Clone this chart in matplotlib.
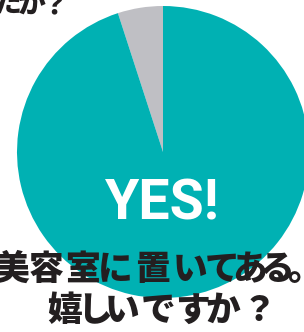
import matplotlib
matplotlib.use("Agg")
import matplotlib.pyplot as plt

# Data
labels = ["NO", "YES"]
values = [5, 95]
colors = ["#BFBFC4", "#00B1B3"]
center_label = "YES!"
title_top = "たか？"
title_lines = ["美容室に置いてある。", "嬉しいですか？"]

W, H = 304, 332
fig = plt.figure(figsize=(W / 100, H / 100), dpi=100)
ax = fig.add_axes([0, 0, 1, 1])

ax.pie(values, colors=colors, startangle=90, counterclock=True,
       center=(163, H - 152), radius=146,
       wedgeprops=dict(linewidth=0))
ax.set_xlim(0, W)
ax.set_ylim(0, H)
ax.set_aspect("equal")
ax.axis("off")

jp = ["Noto Sans CJK JP", "DejaVu Sans"]
dark = "#231F20"

# proportional (kerned) layout of the Japanese headline, per glyph centre (px)
top_x = [8, 32, 54]
line1_x = [11.5, 46, 82.5, 115.5, 152, 190, 222, 249.5, 277, 305]
line2_x = [65, 95, 122.5, 158, 192.5, 223, 258.5]


def draw_line(s, xs, base_px, size):
    for ch, x in zip(s, xs):
        ax.text(x, H - base_px, ch, ha="center", va="baseline", fontsize=size,
                family=jp, weight="black", color=dark)


draw_line(title_top, top_x, 13, 20)

ax.text(162.5, H - 219, center_label, ha="center", va="baseline", fontsize=40,
        family=["Roboto", "DejaVu Sans"], weight="bold", color="white")

draw_line(title_lines[0], line1_x, 280, 25)
draw_line(title_lines[1], line2_x, 321, 25)

fig.savefig("out.png", dpi=100)
